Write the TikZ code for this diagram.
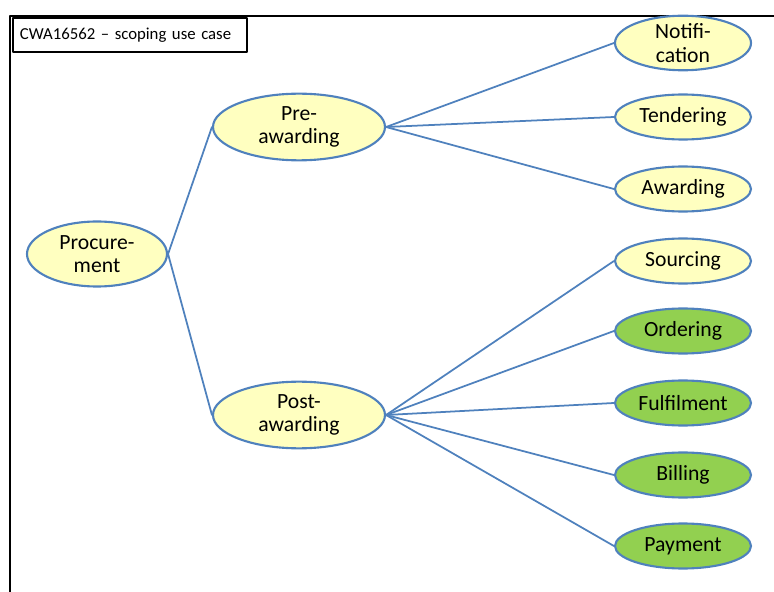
\documentclass[tikz,border=0pt]{standalone}
\usepackage{fontspec}
\setmainfont{Carlito}
\usetikzlibrary{shapes.geometric}
\definecolor{cwablue}{RGB}{79,129,189}
\definecolor{cwayellow}{RGB}{255,255,192}
\definecolor{cwagreen}{RGB}{146,208,80}
\tikzset{
  every picture/.append style={line cap=round,line join=round},
  cwa frame/.style={black,line width=2pt},
  cwa title/.style={draw=black,line width=1.7pt,font=\fontsize{14.3}{16}\selectfont,
    inner xsep=0.21cm,inner ysep=0pt,minimum height=1.02cm,text width=6.6cm,align=left},
  cwa stage/.style={ellipse,draw=cwablue,line width=1.8pt,fill=cwayellow,inner sep=0pt,
    align=center,font=\fontsize{18.5}{20}\selectfont},
  cwa phase/.style={cwa stage,minimum width=4.2cm,minimum height=1.95cm},
  cwa sub/.style={cwa stage,minimum width=5.16cm,minimum height=2.0cm},
  cwa leaf/.style={cwa stage,minimum width=4.08cm,minimum height=1.35cm},
  cwa scope/.style={cwa leaf,fill=cwagreen},
  cwa link/.style={cwablue,line width=1.5pt}
}
\begin{document}
\begin{tikzpicture}[x=0.03cm,y=-0.03cm]
  \useasboundingbox (0,0) rectangle (774,592);
  % outer frame, cut by the page on the right and bottom
  \draw[cwa frame] (10,600) -- (10,16) -- (780,16);
  \node[cwa title,anchor=north west] (title) at (12,17) {CWA16562 -- scoping use case};

  \node[cwa phase] (proc) at (97,254) {Procure-\\ment};
  \node[cwa sub] (pre) at (299,127) {Pre-\\awarding};
  \node[cwa sub] (post) at (299,415) {Post-\\awarding};

  \node[cwa leaf,minimum height=1.53cm] (notif) at (683,43) {Notifi-\\cation};
  \node[cwa leaf] (tender) at (683,117) {Tendering};
  \node[cwa leaf] (award) at (683,189) {Awarding};
  \node[cwa leaf] (source) at (683,261) {Sourcing};
  \node[cwa scope] (order) at (683,331) {Ordering};
  \node[cwa scope] (fulfil) at (683,403) {Fulfilment};
  \node[cwa scope] (bill) at (683,475) {Billing};
  \node[cwa scope] (pay) at (683,546) {Payment};

  \draw[cwa link] (proc.east) -- (pre.west);
  \draw[cwa link] (proc.east) -- (post.west);
  \foreach \leaf in {notif,tender,award}
    \draw[cwa link] (pre.east) -- (\leaf.west);
  \foreach \leaf in {source,order,fulfil,bill,pay}
    \draw[cwa link] (post.east) -- (\leaf.west);
\end{tikzpicture}
\end{document}
